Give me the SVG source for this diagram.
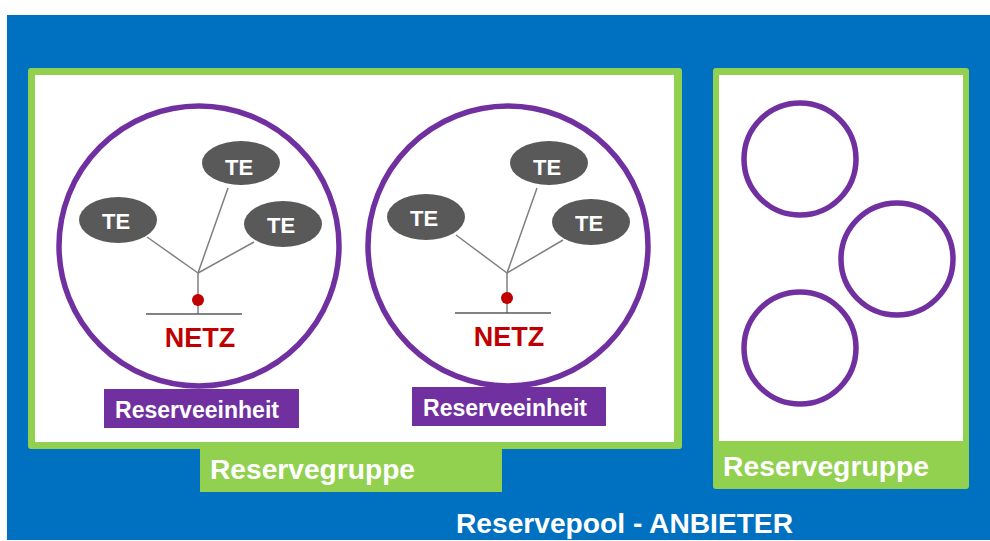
<svg xmlns="http://www.w3.org/2000/svg" width="990" height="541" viewBox="0 0 990 541">
<style>
.t{font-family:"Liberation Sans",Arial,sans-serif;font-weight:bold;fill:#fff}
.te{fill:#595959}
.ru{fill:none;stroke:#7030A0;stroke-width:5.5}
.ln{stroke:#7f7f7f;stroke-width:1.5;fill:none}
.bar{stroke:#595959;stroke-width:1.5}
.netz{font-family:"Liberation Sans",Arial,sans-serif;font-weight:bold;fill:#C00000;font-size:27px}
.green{fill:#92D050}
.purp{fill:#7030A0}
</style>
<rect x="0" y="0" width="990" height="541" fill="#fff"/>
<g id="reservepool">
<rect x="7" y="15" width="983" height="525" fill="#0070C0"/>
<text class="t" x="456" y="533" font-size="28" textLength="337" lengthAdjust="spacingAndGlyphs">Reservepool - ANBIETER</text>
</g>
<g id="reservegruppe1">
<rect class="green" x="28" y="68" width="654" height="381" rx="3"/>
<rect x="35" y="75" width="639" height="367" fill="#fff"/>
<rect class="green" x="200" y="445" width="302" height="47"/>
<text class="t" x="210" y="479" font-size="27" textLength="205" lengthAdjust="spacingAndGlyphs">Reservegruppe</text>
</g>
<g id="reservegruppe2">
<rect class="green" x="713" y="68" width="256" height="421" rx="3"/>
<rect x="719" y="75" width="244" height="366" fill="#fff"/>
<text class="t" x="723" y="476" font-size="27" textLength="206" lengthAdjust="spacingAndGlyphs">Reservegruppe</text>
</g>
<g id="connectors">
<line class="ln" x1="198" y1="273" x2="228" y2="188"/>
<line class="ln" x1="198" y1="273" x2="147" y2="237"/>
<line class="ln" x1="198" y1="273" x2="254" y2="242"/>
<line class="ln" x1="198" y1="273" x2="198" y2="314"/>
<line class="ln" x1="507" y1="273" x2="537" y2="188"/>
<line class="ln" x1="507" y1="273" x2="456" y2="235"/>
<line class="ln" x1="507" y1="273" x2="563" y2="240"/>
<line class="ln" x1="507" y1="273" x2="507" y2="313"/>
</g>
<g id="einheit1">
<circle class="ru" cx="199" cy="246" r="140"/>
<line class="bar" x1="146" y1="314" x2="242" y2="314"/>
<circle cx="198" cy="300" r="6" fill="#C00000"/>
<text class="netz" x="200" y="347" text-anchor="middle">NETZ</text>
<rect class="purp" x="104" y="389" width="195" height="39"/>
<text class="t" x="115" y="418" font-size="23" textLength="164" lengthAdjust="spacingAndGlyphs">Reserveeinheit</text>
</g>
<g id="te1a"><ellipse class="te" cx="241" cy="163" rx="39" ry="22"/><text class="t" x="239" y="175" font-size="22" text-anchor="middle">TE</text></g>
<g id="te1b"><ellipse class="te" cx="118" cy="220" rx="39" ry="23"/><text class="t" x="116" y="229" font-size="22" text-anchor="middle">TE</text></g>
<g id="te1c"><ellipse class="te" cx="283" cy="224" rx="39" ry="23"/><text class="t" x="281" y="233" font-size="22" text-anchor="middle">TE</text></g>
<g id="einheit2">
<circle class="ru" cx="508" cy="246" r="140"/>
<line class="bar" x1="455" y1="313" x2="551" y2="313"/>
<circle cx="507" cy="298" r="6" fill="#C00000"/>
<text class="netz" x="509" y="346" text-anchor="middle">NETZ</text>
<rect class="purp" x="412" y="387" width="194" height="39"/>
<text class="t" x="423" y="416" font-size="23" textLength="164" lengthAdjust="spacingAndGlyphs">Reserveeinheit</text>
</g>
<g id="te2a"><ellipse class="te" cx="549" cy="163" rx="39" ry="22"/><text class="t" x="547" y="175" font-size="22" text-anchor="middle">TE</text></g>
<g id="te2b"><ellipse class="te" cx="426" cy="217" rx="39" ry="23"/><text class="t" x="424" y="226" font-size="22" text-anchor="middle">TE</text></g>
<g id="te2c"><ellipse class="te" cx="591" cy="222" rx="39" ry="23"/><text class="t" x="589" y="231" font-size="22" text-anchor="middle">TE</text></g>
<g id="leer1"><circle class="ru" cx="800" cy="159" r="56"/></g>
<g id="leer2"><circle class="ru" cx="897" cy="259" r="56"/></g>
<g id="leer3"><circle class="ru" cx="800" cy="348" r="56"/></g>
</svg>
